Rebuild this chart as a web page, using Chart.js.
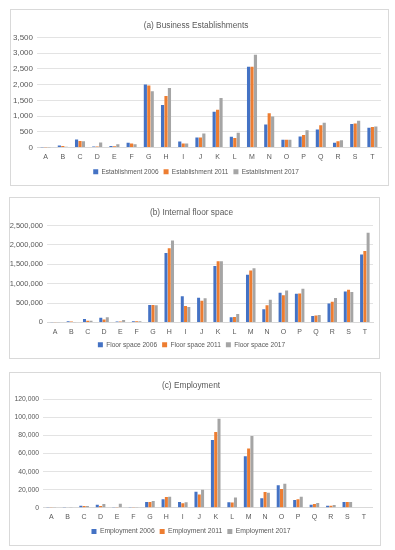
<!DOCTYPE html>
<html>
<head>
<meta charset="utf-8">
<script src="https://cdn.jsdelivr.net/npm/chart.js@4"></script>
<style>
  html, body { margin: 0; padding: 0; background: #fff; }
  body { width: 395px; height: 550px; position: relative; overflow: hidden; }
  .panel { position: absolute; box-sizing: border-box; border: 1px solid #d9d9d9; background: #fff; }
  .panel canvas { display: block; }
</style>
</head>
<body>
<div class="panel" style="left:10px;top:9px;width:379px;height:177px"><canvas id="ca"></canvas></div>
<div class="panel" style="left:9px;top:197px;width:371px;height:162px"><canvas id="cb"></canvas></div>
<div class="panel" style="left:9px;top:372px;width:372px;height:174px"><canvas id="cc"></canvas></div>
<script>
const CATS = ['A','B','C','D','E','F','G','H','I','J','K','L','M','N','O','P','Q','R','S','T']

// (a) Business establishments
const est2006 = [3, 65, 255, 30, 50, 150, 2000, 1350, 190, 315, 1140, 340, 2570, 730, 250, 350, 575, 150, 750, 630]
const est2011 = [2, 45, 210, 30, 40, 125, 1970, 1640, 130, 320, 1200, 300, 2570, 1090, 250, 395, 710, 200, 760, 650]
const est2017 = [2, 25, 200, 160, 105, 100, 1790, 1890, 125, 445, 1575, 470, 2950, 985, 245, 545, 785, 230, 850, 665]

// (b) Internal floor space
const fs2006 = [2000, 30000, 85000, 120000, 25000, 30000, 450000, 1790000, 675000, 635000, 1455000, 130000, 1230000, 340000, 765000, 740000, 165000, 490000, 800000, 1750000]
const fs2011 = [2000, 25000, 40000, 75000, 25000, 30000, 450000, 1915000, 425000, 560000, 1575000, 140000, 1340000, 445000, 700000, 745000, 175000, 530000, 840000, 1840000]
const fs2017 = [1000, 5000, 40000, 135000, 60000, 30000, 440000, 2110000, 400000, 620000, 1575000, 215000, 1395000, 585000, 820000, 870000, 190000, 630000, 785000, 2310000]

// (c) Employment
const emp2006 = [100, 700, 2200, 3300, 800, 700, 6300, 9500, 6300, 17700, 75000, 6000, 57000, 10500, 25000, 8500, 3300, 2200, 6200, 0]
const emp2011 = [100, 500, 1800, 2000, 200, 700, 6300, 12000, 4800, 14500, 84000, 5800, 65500, 17300, 20700, 9300, 4000, 2200, 6200, 0]
const emp2017 = [100, 200, 1800, 4000, 4400, 700, 7300, 12200, 6000, 19800, 98500, 11200, 79500, 16700, 26500, 12200, 5200, 3000, 6200, 0]

const COLORS = ['#4472c4', '#ed7d31', '#a5a5a5']
const FONT = 'Liberation Sans'
const TXT = '#595959'

function makeChart(id, title, labels3, data3, o) {
  return new Chart(document.getElementById(id), {
    type: 'bar',
    data: {
      labels: CATS,
      datasets: data3.map((d, i) => ({
        label: labels3[i],
        data: d,
        backgroundColor: COLORS[i],
        borderWidth: 0,
        barPercentage: 0.92,
        categoryPercentage: 0.6,
      })),
    },
    options: {
      responsive: true,
      maintainAspectRatio: false,
      animation: false,
      layout: { padding: { top: o.top, right: o.right, bottom: 0, left: 0 } },
      plugins: {
        title: { display: true, text: title, color: TXT, font: { family: FONT, size: 8.3, weight: 'normal' },
                 padding: { top: 0, bottom: o.titleGap } },
        legend: {
          position: 'bottom',
          labels: { color: TXT, font: { family: FONT, size: o.legSize }, boxWidth: 5, boxHeight: 5, padding: 5 },
        },
        tooltip: { enabled: false },
      },
      scales: {
        x: {
          afterFit: s => { s.height = o.xHeight },
          grid: { display: false, drawTicks: false },
          border: { color: '#d9d9d9' },
          ticks: { color: TXT, font: { family: FONT, size: 7 }, padding: 5, maxRotation: 0 },
        },
        y: {
          min: 0, max: o.max,
          afterFit: s => { s.width = o.yWidth },
          grid: { color: '#e3e3e3', drawTicks: false },
          border: { display: false },
          ticks: { stepSize: o.step, color: TXT, font: { family: FONT, size: o.tickSize }, padding: 4,
                   callback: v => v.toLocaleString('en-US') },
        },
      },
    },
  })
}

makeChart('ca', '(a) Business Establishments',
  ['Establishment 2006', 'Establishment 2011', 'Establishment 2017'],
  [est2006, est2011, est2017],
  { max: 3500, step: 500, yWidth: 26, top: 11, right: 7, titleGap: 6.5, xHeight: 16, tickSize: 8, legSize: 6.5 })

makeChart('cb', '(b) Internal floor space',
  ['Floor space 2006', 'Floor space 2011', 'Floor space 2017'],
  [fs2006, fs2011, fs2017],
  { max: 2500000, step: 500000, yWidth: 37, top: 10, right: 6, titleGap: 7.5, xHeight: 14, tickSize: 7.5, legSize: 6.6 })

makeChart('cc', '(c) Employment',
  ['Employment 2006', 'Employment 2011', 'Employment 2017'],
  [emp2006, emp2011, emp2017],
  { max: 120000, step: 20000, yWidth: 33, top: 8, right: 8, titleGap: 8.5, xHeight: 15.5, tickSize: 6.8, legSize: 6.8 })
</script>
</body>
</html>
